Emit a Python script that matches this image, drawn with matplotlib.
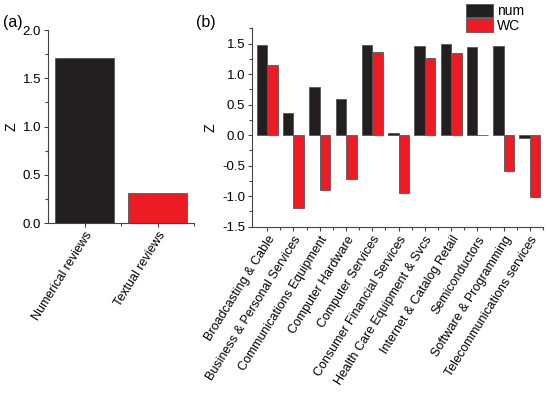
import matplotlib
matplotlib.use("Agg")
import matplotlib.pyplot as plt
import numpy as np
from matplotlib.ticker import MultipleLocator, FormatStrFormatter

plt.rcParams['font.family'] = ['Liberation Sans', 'DejaVu Sans']
plt.rcParams['font.size'] = 9

# panel (a)
review_types = ['Numerical reviews', 'Textual reviews']
review_z = [1.71, 0.31]

# panel (b)
industries = ['Broadcasting & Cable', 'Business & Personal Services',
              'Communications Equipment', 'Computer Hardware',
              'Computer Services', 'Consumer Financial Services',
              'Health Care Equipment & Svcs', 'Internet & Catalog Retail',
              'Semiconductors', 'Software & Programming',
              'Telecommunications services']
num_z = [1.47, 0.37, 0.79, 0.585, 1.47, 0.03, 1.46, 1.49, 1.445, 1.46, -0.04]
wc_z = [1.15, -1.20, -0.90, -0.71, 1.36, -0.94, 1.27, 1.35, 0.005, -0.58, -1.02]

BLACK = '#231f20'
RED = '#ed1c24'
EDGE = '#555555'

fig = plt.figure(figsize=(5.5, 3.99), dpi=100)
axa = fig.add_axes([0.0873, 0.4411, 0.2655, 0.4837])
axb = fig.add_axes([0.4582, 0.4318, 0.529, 0.497])

def style(ax):
    for s in ['top', 'right']:
        ax.spines[s].set_visible(False)
    for s in ['left', 'bottom']:
        ax.spines[s].set_color('#444444')
        ax.spines[s].set_linewidth(0.8)
    ax.tick_params(which='both', direction='out', color='#444444', width=0.8)
    ax.tick_params(which='major', length=3, labelsize=9.5, pad=2)
    ax.tick_params(which='minor', length=2)
    ax.yaxis.set_major_locator(MultipleLocator(0.5))
    ax.yaxis.set_minor_locator(MultipleLocator(0.25))
    ax.yaxis.set_major_formatter(FormatStrFormatter('%.1f'))

# (a)
xa = np.arange(1, len(review_types) + 1)
axa.bar(xa, review_z, width=0.8, color=[BLACK, RED], edgecolor=EDGE, linewidth=0.6)
axa.set_xlim(0.5, 2.5)
axa.set_ylim(0, 2.0)
style(axa)
axa.set_xticks(xa)
axa.set_xticks(xa + 0.5, minor=True)
axa.set_xticklabels(review_types, rotation=58, ha='right', va='top', rotation_mode='anchor', fontsize=9)
axa.set_ylabel('Z', fontsize=10, labelpad=3)

# (b)
xb = np.arange(1, len(industries) + 1)
w = 0.4
axb.bar(xb - w / 2, num_z, width=w, color=BLACK, edgecolor=EDGE, linewidth=0.6, label='num')
axb.bar(xb + w / 2, wc_z, width=w, color=RED, edgecolor=EDGE, linewidth=0.6, label='WC')
axb.set_xlim(0.42, 11.45)
axb.set_ylim(-1.5, 1.75)
style(axb)
axb.set_xticks(xb)
axb.set_xticks(xb + 0.5, minor=True)
axb.set_xticklabels(industries, rotation=58, ha='right', va='top', rotation_mode='anchor', fontsize=9)
axb.set_ylabel('Z', fontsize=10, labelpad=3)

axb.legend(loc='upper left', bbox_to_anchor=(466 / 550, 1 - 4 / 399), bbox_transform=fig.transFigure,
           frameon=False, borderpad=0, borderaxespad=0, labelspacing=0.0, handlelength=1.95,
           handleheight=1.1, handletextpad=0.3, fontsize=10)

fig.text(3 / 550, 1 - 22 / 399, '(a)', fontsize=11.5, va='center', ha='left')
fig.text(196 / 550, 1 - 22 / 399, '(b)', fontsize=11.5, va='center', ha='left')

fig.savefig('out.png', dpi=100)
